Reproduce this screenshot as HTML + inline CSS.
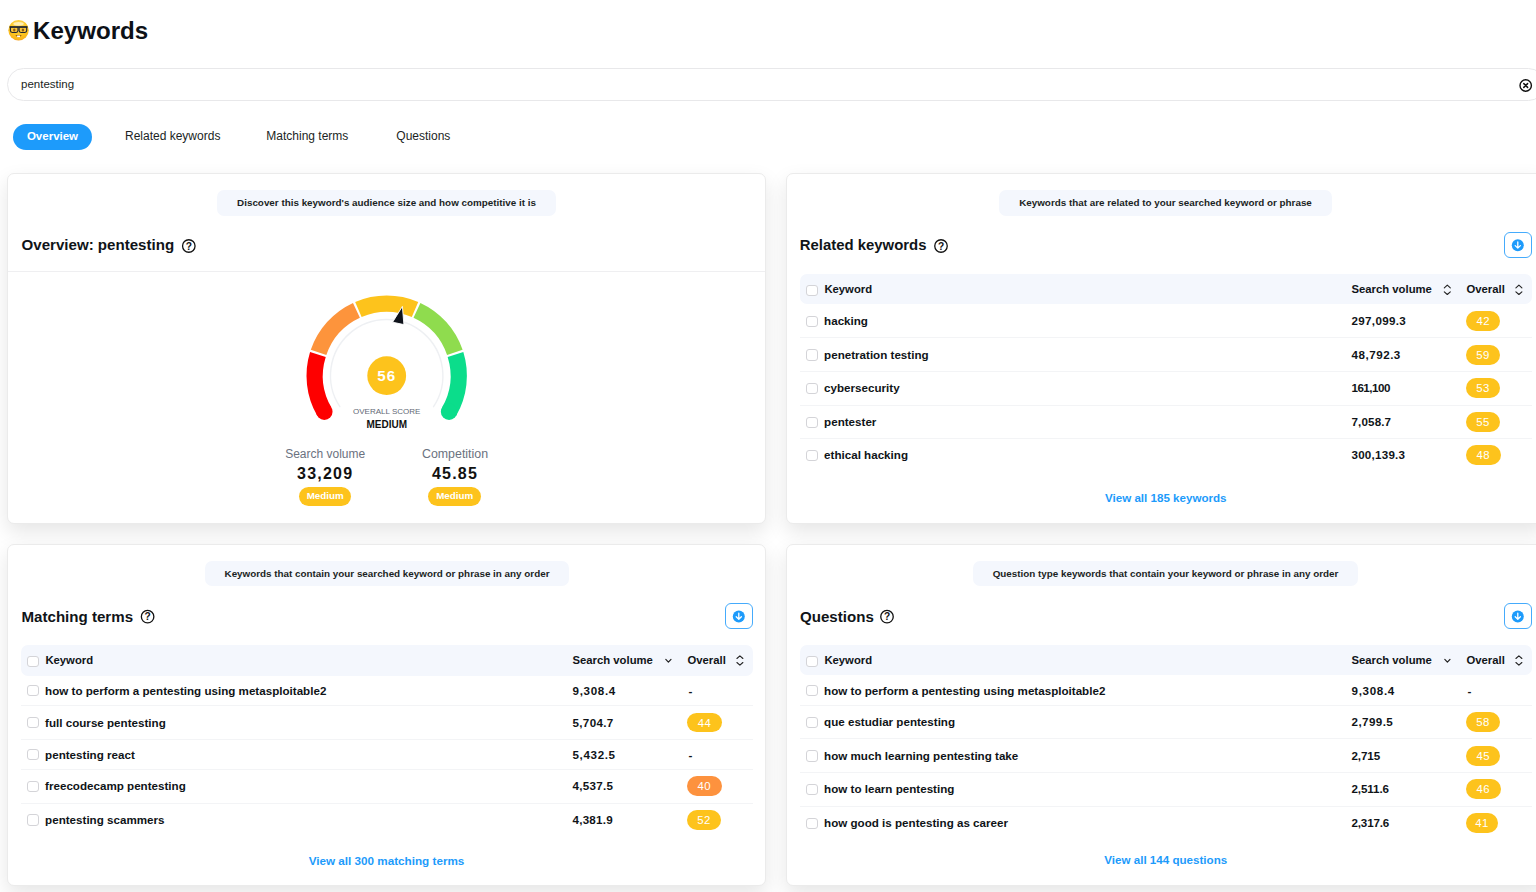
<!DOCTYPE html>
<html><head><meta charset="utf-8"><title>Keywords</title>
<style>
html,body{margin:0;padding:0;}
body{width:1536px;height:892px;overflow:hidden;position:relative;background:#fff;font-family:"Liberation Sans",Arial,sans-serif;-webkit-font-smoothing:antialiased;}
.t{position:absolute;line-height:1;white-space:nowrap;}
.b{position:absolute;}
.badge{position:absolute;width:34.4px;height:19.9px;border-radius:10px;color:#fff;font-weight:400;font-size:11.4px;line-height:20px;text-align:center;letter-spacing:0.4px;}
.badge.big{height:18.8px;line-height:18.8px;font-size:9.8px;font-weight:700;letter-spacing:0;}
svg.ov{position:absolute;left:0;top:0;width:1536px;height:892px;pointer-events:none;}
</style></head><body>
<div class="b" style="left:7px;top:68px;width:1538px;height:33px;border:1px solid #e8e8ea;border-radius:17px;box-sizing:border-box;background:#fff;"></div>
<div class="b" style="left:13px;top:124px;width:79px;height:26px;background:#1d9bfb;border-radius:13px;"></div>
<div class="b" style="left:7px;top:173px;width:759px;height:351px;background:#fff;border:1px solid #ebebeb;border-radius:7px;box-sizing:border-box;box-shadow:0 8px 20px rgba(0,0,0,0.1);"></div>
<div class="b" style="left:786px;top:173px;width:759px;height:351px;background:#fff;border:1px solid #ebebeb;border-radius:7px;box-sizing:border-box;box-shadow:0 8px 20px rgba(0,0,0,0.1);"></div>
<div class="b" style="left:7px;top:544px;width:759px;height:342px;background:#fff;border:1px solid #ebebeb;border-radius:7px;box-sizing:border-box;box-shadow:0 8px 20px rgba(0,0,0,0.1);"></div>
<div class="b" style="left:786px;top:544px;width:759px;height:342px;background:#fff;border:1px solid #ebebeb;border-radius:7px;box-sizing:border-box;box-shadow:0 8px 20px rgba(0,0,0,0.1);"></div>
<div class="b" style="left:217px;top:190px;width:339px;height:25.8px;background:#f4f7fd;border-radius:7px;"></div>
<div class="b" style="left:8px;top:271px;width:757px;height:1px;background:#efeff1;"></div>
<div class="b" style="left:999px;top:190px;width:333px;height:25.8px;background:#f4f7fd;border-radius:7px;"></div>
<div class="b" style="left:1504.2px;top:232.2px;width:27.4px;height:25.6px;border:1px solid #45abfc;border-radius:6px;box-sizing:border-box;background:#fff;"></div>
<div class="b" style="left:800px;top:274.4px;width:731.5px;height:30.1px;background:#f4f7fd;border-radius:7px;"></div>
<div class="b" style="left:806.2px;top:285px;width:11.5px;height:11.2px;border:1px solid #d4d4d8;border-radius:3px;box-sizing:border-box;background:#fff;"></div>
<div class="b" style="left:806.2px;top:315.88px;width:11.5px;height:11.2px;border:1px solid #d4d4d8;border-radius:3px;box-sizing:border-box;background:#fff;"></div>
<div class="b" style="left:800px;top:337.45px;width:731.5px;height:1px;background:#f3f4f6;"></div>
<div class="b" style="left:806.2px;top:349.43px;width:11.5px;height:11.2px;border:1px solid #d4d4d8;border-radius:3px;box-sizing:border-box;background:#fff;"></div>
<div class="b" style="left:800px;top:371px;width:731.5px;height:1px;background:#f3f4f6;"></div>
<div class="b" style="left:806.2px;top:382.98px;width:11.5px;height:11.2px;border:1px solid #d4d4d8;border-radius:3px;box-sizing:border-box;background:#fff;"></div>
<div class="b" style="left:800px;top:404.55px;width:731.5px;height:1px;background:#f3f4f6;"></div>
<div class="b" style="left:806.2px;top:416.53px;width:11.5px;height:11.2px;border:1px solid #d4d4d8;border-radius:3px;box-sizing:border-box;background:#fff;"></div>
<div class="b" style="left:800px;top:438.1px;width:731.5px;height:1px;background:#f3f4f6;"></div>
<div class="b" style="left:806.2px;top:450.08px;width:11.5px;height:11.2px;border:1px solid #d4d4d8;border-radius:3px;box-sizing:border-box;background:#fff;"></div>
<div class="b" style="left:205.4px;top:560.6px;width:363.2px;height:25.8px;background:#f4f7fd;border-radius:7px;"></div>
<div class="b" style="left:725.2px;top:603.4px;width:27.4px;height:25.6px;border:1px solid #45abfc;border-radius:6px;box-sizing:border-box;background:#fff;"></div>
<div class="b" style="left:21px;top:645.1px;width:731.5px;height:30.5px;background:#f4f7fd;border-radius:7px;"></div>
<div class="b" style="left:27.2px;top:655.7px;width:11.5px;height:11.2px;border:1px solid #d4d4d8;border-radius:3px;box-sizing:border-box;background:#fff;"></div>
<div class="b" style="left:27.2px;top:685.3px;width:11.5px;height:11.2px;border:1px solid #d4d4d8;border-radius:3px;box-sizing:border-box;background:#fff;"></div>
<div class="b" style="left:21px;top:705.2px;width:731.5px;height:1px;background:#f3f4f6;"></div>
<div class="b" style="left:27.2px;top:717.18px;width:11.5px;height:11.2px;border:1px solid #d4d4d8;border-radius:3px;box-sizing:border-box;background:#fff;"></div>
<div class="b" style="left:21px;top:738.75px;width:731.5px;height:1px;background:#f3f4f6;"></div>
<div class="b" style="left:27.2px;top:749.05px;width:11.5px;height:11.2px;border:1px solid #d4d4d8;border-radius:3px;box-sizing:border-box;background:#fff;"></div>
<div class="b" style="left:21px;top:768.95px;width:731.5px;height:1px;background:#f3f4f6;"></div>
<div class="b" style="left:27.2px;top:780.93px;width:11.5px;height:11.2px;border:1px solid #d4d4d8;border-radius:3px;box-sizing:border-box;background:#fff;"></div>
<div class="b" style="left:21px;top:802.5px;width:731.5px;height:1px;background:#f3f4f6;"></div>
<div class="b" style="left:27.2px;top:814.48px;width:11.5px;height:11.2px;border:1px solid #d4d4d8;border-radius:3px;box-sizing:border-box;background:#fff;"></div>
<div class="b" style="left:972.8px;top:560.6px;width:385.5px;height:25.8px;background:#f4f7fd;border-radius:7px;"></div>
<div class="b" style="left:1504.2px;top:603.4px;width:27.4px;height:25.6px;border:1px solid #45abfc;border-radius:6px;box-sizing:border-box;background:#fff;"></div>
<div class="b" style="left:800px;top:645.1px;width:731.5px;height:30.2px;background:#f4f7fd;border-radius:7px;"></div>
<div class="b" style="left:806.2px;top:655.7px;width:11.5px;height:11.2px;border:1px solid #d4d4d8;border-radius:3px;box-sizing:border-box;background:#fff;"></div>
<div class="b" style="left:806.2px;top:685px;width:11.5px;height:11.2px;border:1px solid #d4d4d8;border-radius:3px;box-sizing:border-box;background:#fff;"></div>
<div class="b" style="left:800px;top:704.9px;width:731.5px;height:1px;background:#f3f4f6;"></div>
<div class="b" style="left:806.2px;top:716.88px;width:11.5px;height:11.2px;border:1px solid #d4d4d8;border-radius:3px;box-sizing:border-box;background:#fff;"></div>
<div class="b" style="left:800px;top:738.45px;width:731.5px;height:1px;background:#f3f4f6;"></div>
<div class="b" style="left:806.2px;top:750.42px;width:11.5px;height:11.2px;border:1px solid #d4d4d8;border-radius:3px;box-sizing:border-box;background:#fff;"></div>
<div class="b" style="left:800px;top:772px;width:731.5px;height:1px;background:#f3f4f6;"></div>
<div class="b" style="left:806.2px;top:783.97px;width:11.5px;height:11.2px;border:1px solid #d4d4d8;border-radius:3px;box-sizing:border-box;background:#fff;"></div>
<div class="b" style="left:800px;top:805.55px;width:731.5px;height:1px;background:#f3f4f6;"></div>
<div class="b" style="left:806.2px;top:817.52px;width:11.5px;height:11.2px;border:1px solid #d4d4d8;border-radius:3px;box-sizing:border-box;background:#fff;"></div>
<svg class="ov" viewBox="0 0 1536 892">
<defs><radialGradient id="emo" cx="0.5" cy="0.3" r="0.75"><stop offset="0" stop-color="#ffe27a"/><stop offset="0.55" stop-color="#fcc722"/><stop offset="0.85" stop-color="#f9b51a"/><stop offset="1" stop-color="#f3901c"/></radialGradient></defs>
<g>
<circle cx="18.55" cy="30.3" r="10.2" fill="url(#emo)"/>
<ellipse cx="18.55" cy="23.7" rx="5.2" ry="1.6" fill="#fff3c4" opacity="0.85"/>
<path d="M10.4 27 H18 V30.6 Q18 32.5 16.1 32.5 H12.3 Q10.4 32.5 10.4 30.6 Z" fill="#f9c437" stroke="#1e2530" stroke-width="1.1"/>
<path d="M19.1 27 H26.7 V30.6 Q26.7 32.5 24.8 32.5 H21 Q19.1 32.5 19.1 30.6 Z" fill="#f9c437" stroke="#1e2530" stroke-width="1.1"/>
<line x1="9.6" y1="27" x2="27.5" y2="27" stroke="#1e2530" stroke-width="1.5"/>
<ellipse cx="14.3" cy="29.9" rx="1.2" ry="1.5" fill="#8a5a1a"/>
<ellipse cx="22.9" cy="29.9" rx="1.2" ry="1.5" fill="#8a5a1a"/>
<path d="M15.3 35.2 Q18.55 38.4 21.8 35.2 Z" fill="#7a3f12"/>
<rect x="17.1" y="35.5" width="2.9" height="1.6" fill="#fff"/>
</g>
<circle cx="1525.7" cy="85.5" r="5.7" fill="none" stroke="#111" stroke-width="1.4"/>
<path d="M1523.8 83.6 L1527.6 87.4 M1527.6 83.6 L1523.8 87.4" stroke="#111" stroke-width="1.5" stroke-linecap="round"/>
<circle cx="188.8" cy="246.0" r="6.25" fill="none" stroke="#111" stroke-width="1.3"/>
<text x="188.85" y="249.55" text-anchor="middle" font-family="Liberation Sans, Arial, sans-serif" font-weight="700" font-size="10.2" fill="#111">?</text>
<g>
<path d="M339.84 406.72 A56.2 56.2 0 1 1 433.56 406.72" fill="none" stroke="#eef0f3" stroke-width="1.4" stroke-linecap="round"/>
<path d="M324.35 411.70 A72.0 72.0 0 0 1 317.90 354.47" fill="none" stroke="#fe0000" stroke-width="16.4" stroke-linecap="butt"/>
<path d="M318.56 352.44 A72.0 72.0 0 0 1 356.44 310.37" fill="none" stroke="#fd943c" stroke-width="16.4" stroke-linecap="butt"/>
<path d="M358.39 309.50 A72.0 72.0 0 0 1 415.01 309.50" fill="none" stroke="#fdc31c" stroke-width="16.4" stroke-linecap="butt"/>
<path d="M416.96 310.37 A72.0 72.0 0 0 1 454.84 352.44" fill="none" stroke="#8fdc4e" stroke-width="16.4" stroke-linecap="butt"/>
<path d="M455.50 354.47 A72.0 72.0 0 0 1 449.05 411.70" fill="none" stroke="#0bdd8b" stroke-width="16.4" stroke-linecap="butt"/>
<circle cx="324.35" cy="411.70" r="8.2" fill="#fe0000"/>
<circle cx="449.05" cy="411.70" r="8.2" fill="#0bdd8b"/>
<path d="M402.4 306.4 L392.6 322.2 L403.9 324.6 Z" fill="#0f131b" stroke="#fff" stroke-width="0.9" stroke-linejoin="round"/>
<circle cx="386.7" cy="375.7" r="19.4" fill="#fdc31c"/>
</g>
<circle cx="941.0" cy="246.0" r="6.25" fill="none" stroke="#111" stroke-width="1.3"/>
<text x="941.05" y="249.55" text-anchor="middle" font-family="Liberation Sans, Arial, sans-serif" font-weight="700" font-size="10.2" fill="#111">?</text>
<circle cx="1517.8" cy="245.2" r="6" fill="#1d9bfb"/>
<path d="M1517.8 242.0 V248.0 M1515.2 245.6 L1517.8 248.1 L1520.4 245.6" fill="none" stroke="#fff" stroke-width="1.3" stroke-linecap="round" stroke-linejoin="round"/>
<path d="M1444.3 287.8 L1447.3 285.1 L1450.3 287.8 M1444.3 291.8 L1447.3 294.5 L1450.3 291.8" fill="none" stroke="#222" stroke-width="1.1" stroke-linecap="round" stroke-linejoin="round"/>
<path d="M1515.9 287.8 L1518.9 285.1 L1521.9 287.8 M1515.9 291.8 L1518.9 294.5 L1521.9 291.8" fill="none" stroke="#222" stroke-width="1.1" stroke-linecap="round" stroke-linejoin="round"/>
<circle cx="147.6" cy="616.7" r="6.25" fill="none" stroke="#111" stroke-width="1.3"/>
<text x="147.65" y="620.25" text-anchor="middle" font-family="Liberation Sans, Arial, sans-serif" font-weight="700" font-size="10.2" fill="#111">?</text>
<circle cx="738.8" cy="616.4" r="6" fill="#1d9bfb"/>
<path d="M738.8 613.2 V619.2 M736.2 616.8 L738.8 619.3 L741.4 616.8" fill="none" stroke="#fff" stroke-width="1.3" stroke-linecap="round" stroke-linejoin="round"/>
<path d="M665.8 659.35 L668.4 662.15 L671.0 659.35" fill="none" stroke="#222" stroke-width="1.2" stroke-linecap="round" stroke-linejoin="round"/>
<path d="M736.9 658.5 L739.9 655.8 L742.9 658.5 M736.9 662.5 L739.9 665.2 L742.9 662.5" fill="none" stroke="#222" stroke-width="1.1" stroke-linecap="round" stroke-linejoin="round"/>
<circle cx="887.0" cy="616.7" r="6.25" fill="none" stroke="#111" stroke-width="1.3"/>
<text x="887.05" y="620.25" text-anchor="middle" font-family="Liberation Sans, Arial, sans-serif" font-weight="700" font-size="10.2" fill="#111">?</text>
<circle cx="1517.8" cy="616.4" r="6" fill="#1d9bfb"/>
<path d="M1517.8 613.2 V619.2 M1515.2 616.8 L1517.8 619.3 L1520.4 616.8" fill="none" stroke="#fff" stroke-width="1.3" stroke-linecap="round" stroke-linejoin="round"/>
<path d="M1444.8 659.35 L1447.4 662.15 L1450.0 659.35" fill="none" stroke="#222" stroke-width="1.2" stroke-linecap="round" stroke-linejoin="round"/>
<path d="M1515.9 658.5 L1518.9 655.8 L1521.9 658.5 M1515.9 662.5 L1518.9 665.2 L1521.9 662.5" fill="none" stroke="#222" stroke-width="1.1" stroke-linecap="round" stroke-linejoin="round"/>
</svg>
<div class="t" style="top:18.99px;font-size:24.1px;font-weight:700;color:#0d1117;left:33.00px;">Keywords</div>
<div class="t" style="top:78.86px;font-size:11.5px;font-weight:400;color:#1b1f24;left:21.00px;">pentesting</div>
<div class="t" style="top:130.76px;font-size:11.5px;font-weight:700;color:#fff;left:-247.50px;width:600px;text-align:center;">Overview</div>
<div class="t" style="top:130.34px;font-size:12px;font-weight:400;color:#1b1f24;left:125.00px;">Related keywords</div>
<div class="t" style="top:130.34px;font-size:12px;font-weight:400;color:#1b1f24;left:266.30px;">Matching terms</div>
<div class="t" style="top:130.34px;font-size:12px;font-weight:400;color:#1b1f24;left:396.30px;">Questions</div>
<div class="t" style="top:197.66px;font-size:9.85px;font-weight:700;color:#1b1f24;left:86.50px;width:600px;text-align:center;">Discover this keyword's audience size and how competitive it is</div>
<div class="t" style="top:237.41px;font-size:15.1px;font-weight:700;color:#101418;left:21.50px;">Overview: pentesting</div>
<div class="t" style="top:368.03px;font-size:15.2px;font-weight:700;color:#fff;letter-spacing:1.0px;left:86.70px;width:600px;text-align:center;">56</div>
<div class="t" style="top:407.93px;font-size:8.0px;font-weight:400;color:#626975;left:86.70px;width:600px;text-align:center;">OVERALL SCORE</div>
<div class="t" style="top:419.53px;font-size:10.0px;font-weight:700;color:#111;left:86.70px;width:600px;text-align:center;">MEDIUM</div>
<div class="t" style="top:447.94px;font-size:12.0px;font-weight:400;color:#6b7280;left:25.20px;width:600px;text-align:center;">Search volume</div>
<div class="t" style="top:466.15px;font-size:16.0px;font-weight:700;color:#111;letter-spacing:1.2px;left:25.20px;width:600px;text-align:center;">33,209</div>
<div class="badge big" style="left:298.8px;top:487.2px;width:52.7px;background:#fdc31c;">Medium</div>
<div class="t" style="top:447.60px;font-size:12.4px;font-weight:400;color:#6b7280;left:155.00px;width:600px;text-align:center;">Competition</div>
<div class="t" style="top:466.15px;font-size:16.0px;font-weight:700;color:#111;letter-spacing:1.2px;left:155.00px;width:600px;text-align:center;">45.85</div>
<div class="badge big" style="left:428.2px;top:487.2px;width:53px;background:#fdc31c;">Medium</div>
<div class="t" style="top:197.66px;font-size:9.85px;font-weight:700;color:#1b1f24;left:865.50px;width:600px;text-align:center;">Keywords that are related to your searched keyword or phrase</div>
<div class="t" style="top:238.08px;font-size:14.9px;font-weight:700;color:#101418;left:799.80px;">Related keywords</div>
<div class="t" style="top:284.23px;font-size:11.3px;font-weight:700;color:#101418;left:824.40px;">Keyword</div>
<div class="t" style="top:284.23px;font-size:11.3px;font-weight:700;color:#101418;left:1351.50px;">Search volume</div>
<div class="t" style="top:284.23px;font-size:11.3px;font-weight:700;color:#101418;left:1466.50px;">Overall</div>
<div class="t" style="top:315.24px;font-size:11.62px;font-weight:700;color:#101418;left:824.10px;">hacking</div>
<div class="t" style="top:315.24px;font-size:11.62px;font-weight:700;color:#101418;letter-spacing:0.33px;left:1351.50px;">297,099.3</div>
<div class="badge" style="left:1466px;top:311.27px;width:34.4px;background:#fdc31c;">42</div>
<div class="t" style="top:348.79px;font-size:11.62px;font-weight:700;color:#101418;left:824.10px;">penetration testing</div>
<div class="t" style="top:348.79px;font-size:11.62px;font-weight:700;color:#101418;letter-spacing:0.52px;left:1351.50px;">48,792.3</div>
<div class="badge" style="left:1466px;top:344.82px;width:34.1px;background:#fdc31c;">59</div>
<div class="t" style="top:382.34px;font-size:11.62px;font-weight:700;color:#101418;left:824.10px;">cybersecurity</div>
<div class="t" style="top:382.34px;font-size:11.62px;font-weight:700;color:#101418;letter-spacing:-0.52px;left:1351.50px;">161,100</div>
<div class="badge" style="left:1466px;top:378.38px;width:34.1px;background:#fdc31c;">53</div>
<div class="t" style="top:415.89px;font-size:11.62px;font-weight:700;color:#101418;left:824.10px;">pentester</div>
<div class="t" style="top:415.89px;font-size:11.62px;font-weight:700;color:#101418;letter-spacing:0.14px;left:1351.50px;">7,058.7</div>
<div class="badge" style="left:1466px;top:411.93px;width:34.0px;background:#fdc31c;">55</div>
<div class="t" style="top:449.44px;font-size:11.62px;font-weight:700;color:#101418;left:824.10px;">ethical hacking</div>
<div class="t" style="top:449.44px;font-size:11.62px;font-weight:700;color:#101418;letter-spacing:0.23px;left:1351.50px;">300,139.3</div>
<div class="badge" style="left:1466px;top:445.48px;width:34.5px;background:#fdc31c;">48</div>
<div class="t" style="top:492.18px;font-size:11.6px;font-weight:700;color:#1d9bfb;left:865.75px;width:600px;text-align:center;">View all 185 keywords</div>
<div class="t" style="top:568.66px;font-size:9.85px;font-weight:700;color:#1b1f24;left:87.00px;width:600px;text-align:center;">Keywords that contain your searched keyword or phrase in any order</div>
<div class="t" style="top:608.71px;font-size:15.1px;font-weight:700;color:#101418;left:21.50px;">Matching terms</div>
<div class="t" style="top:654.93px;font-size:11.3px;font-weight:700;color:#101418;left:45.40px;">Keyword</div>
<div class="t" style="top:654.93px;font-size:11.3px;font-weight:700;color:#101418;left:572.50px;">Search volume</div>
<div class="t" style="top:654.93px;font-size:11.3px;font-weight:700;color:#101418;left:687.50px;">Overall</div>
<div class="t" style="top:684.91px;font-size:11.62px;font-weight:700;color:#101418;left:45.10px;">how to perform a pentesting using metasploitable2</div>
<div class="t" style="top:684.91px;font-size:11.62px;font-weight:700;color:#101418;letter-spacing:0.67px;left:572.50px;">9,308.4</div>
<div class="t" style="top:684.91px;font-size:11.62px;font-weight:700;color:#101418;left:688.50px;">-</div>
<div class="t" style="top:716.54px;font-size:11.62px;font-weight:700;color:#101418;left:45.10px;">full course pentesting</div>
<div class="t" style="top:716.54px;font-size:11.62px;font-weight:700;color:#101418;letter-spacing:0.34px;left:572.50px;">5,704.7</div>
<div class="badge" style="left:687px;top:712.58px;width:34.8px;background:#fdc31c;">44</div>
<div class="t" style="top:748.66px;font-size:11.62px;font-weight:700;color:#101418;left:45.10px;">pentesting react</div>
<div class="t" style="top:748.66px;font-size:11.62px;font-weight:700;color:#101418;letter-spacing:0.64px;left:572.50px;">5,432.5</div>
<div class="t" style="top:748.66px;font-size:11.62px;font-weight:700;color:#101418;left:688.50px;">-</div>
<div class="t" style="top:780.29px;font-size:11.62px;font-weight:700;color:#101418;left:45.10px;">freecodecamp pentesting</div>
<div class="t" style="top:780.29px;font-size:11.62px;font-weight:700;color:#101418;letter-spacing:0.28px;left:572.50px;">4,537.5</div>
<div class="badge" style="left:687px;top:776.33px;width:34.7px;background:#fd923e;">40</div>
<div class="t" style="top:813.84px;font-size:11.62px;font-weight:700;color:#101418;left:45.10px;">pentesting scammers</div>
<div class="t" style="top:813.84px;font-size:11.62px;font-weight:700;color:#101418;letter-spacing:0.24px;left:572.50px;">4,381.9</div>
<div class="badge" style="left:687px;top:809.88px;width:34.0px;background:#fdc31c;">52</div>
<div class="t" style="top:854.69px;font-size:11.7px;font-weight:700;color:#1d9bfb;left:86.50px;width:600px;text-align:center;">View all 300 matching terms</div>
<div class="t" style="top:568.66px;font-size:9.85px;font-weight:700;color:#1b1f24;left:865.55px;width:600px;text-align:center;">Question type keywords that contain your keyword or phrase in any order</div>
<div class="t" style="top:608.71px;font-size:15.1px;font-weight:700;color:#101418;left:800.00px;">Questions</div>
<div class="t" style="top:654.93px;font-size:11.3px;font-weight:700;color:#101418;left:824.40px;">Keyword</div>
<div class="t" style="top:654.93px;font-size:11.3px;font-weight:700;color:#101418;left:1351.50px;">Search volume</div>
<div class="t" style="top:654.93px;font-size:11.3px;font-weight:700;color:#101418;left:1466.50px;">Overall</div>
<div class="t" style="top:684.61px;font-size:11.62px;font-weight:700;color:#101418;left:824.10px;">how to perform a pentesting using metasploitable2</div>
<div class="t" style="top:684.61px;font-size:11.62px;font-weight:700;color:#101418;letter-spacing:0.67px;left:1351.50px;">9,308.4</div>
<div class="t" style="top:684.61px;font-size:11.62px;font-weight:700;color:#101418;left:1467.50px;">-</div>
<div class="t" style="top:716.24px;font-size:11.62px;font-weight:700;color:#101418;left:824.10px;">que estudiar pentesting</div>
<div class="t" style="top:716.24px;font-size:11.62px;font-weight:700;color:#101418;letter-spacing:0.43px;left:1351.50px;">2,799.5</div>
<div class="badge" style="left:1466px;top:712.27px;width:34.1px;background:#fdc31c;">58</div>
<div class="t" style="top:749.79px;font-size:11.62px;font-weight:700;color:#101418;left:824.10px;">how much learning pentesting take</div>
<div class="t" style="top:749.79px;font-size:11.62px;font-weight:700;color:#101418;letter-spacing:-0.1px;left:1351.50px;">2,715</div>
<div class="badge" style="left:1466px;top:745.82px;width:34.4px;background:#fdc31c;">45</div>
<div class="t" style="top:783.34px;font-size:11.62px;font-weight:700;color:#101418;left:824.10px;">how to learn pentesting</div>
<div class="t" style="top:783.34px;font-size:11.62px;font-weight:700;color:#101418;letter-spacing:-0.1px;left:1351.50px;">2,511.6</div>
<div class="badge" style="left:1466px;top:779.37px;width:34.6px;background:#fdc31c;">46</div>
<div class="t" style="top:816.89px;font-size:11.62px;font-weight:700;color:#101418;left:824.10px;">how good is pentesting as career</div>
<div class="t" style="top:816.89px;font-size:11.62px;font-weight:700;color:#101418;letter-spacing:-0.16px;left:1351.50px;">2,317.6</div>
<div class="badge" style="left:1466px;top:812.92px;width:31.9px;background:#fdc31c;">41</div>
<div class="t" style="top:854.48px;font-size:11.6px;font-weight:700;color:#1d9bfb;left:865.75px;width:600px;text-align:center;">View all 144 questions</div>
</body></html>
